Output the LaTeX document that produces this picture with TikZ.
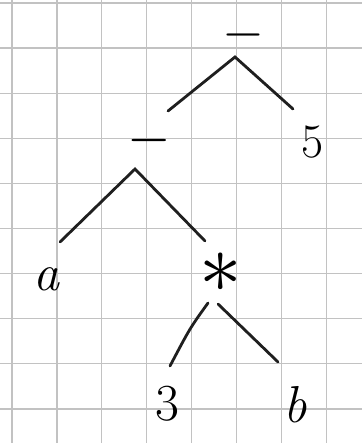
\documentclass[tikz,border=0pt]{standalone}
\usepackage{graphicx}
\usepackage{fontspec}
\begin{document}
\begin{tikzpicture}[x=1pt,y=-1pt,
  gridline/.style={draw=black!24,line width=1.2pt},
  edge/.style={draw=black!88,line width=2.8pt,line cap=round},
  sym/.style={inner sep=0pt,text=black},
  lbl/.style={sym,anchor=base,font=\fontsize{52}{60}\selectfont},
  op/.style={sym,anchor=center}]
\useasboundingbox (0,0) rectangle (362,443);
\fill[white] (0,0) rectangle (362,443);
% grid paper
\foreach \i in {0,...,7} \draw[gridline] ({12+44.9*\i},0) -- ({12+44.9*\i},443);
\foreach \j in {0,...,9} \draw[gridline] (0,{3+45.1*\j}) -- (362,{3+45.1*\j});
% symbols
\node[op] (m1) at (243,35) {\scalebox{5.4}{$-$}};
\node[op] (m2) at (149,141) {\scalebox{5.6}{$-$}};
\node[lbl,font=\fontsize{48}{56}\selectfont] (five) at (313,158) {5};
\node[lbl] (a) at (46,290) {\itshape a};
\node[op] (mul) at (221,273) {\scalebox{8.5}{$\ast$}};
\node[lbl] (three) at (167,420) {3};
\node[lbl] (b) at (295,422) {\itshape b};
% edge end points
\coordinate (m1apex) at (235,57);
\coordinate (m1l) at (168,111);
\coordinate (m1r) at (293,109);
\coordinate (m2apex) at (135,169);
\coordinate (m2l) at (60,242);
\coordinate (m2r) at (205,241);
\coordinate (mulL) at (208,303);
\coordinate (mulR) at (218,304);
\coordinate (threeT) at (170,366);
\coordinate (bT) at (278,362);
% connectors
\draw[edge] (m1l) -- (m1apex) -- (m1r);
\draw[edge] (m2l) -- (m2apex) -- (m2r);
\draw[edge] (mulL) .. controls (190,328) .. (threeT);
\draw[edge] (mulR) -- (bT);
\end{tikzpicture}
\end{document}
